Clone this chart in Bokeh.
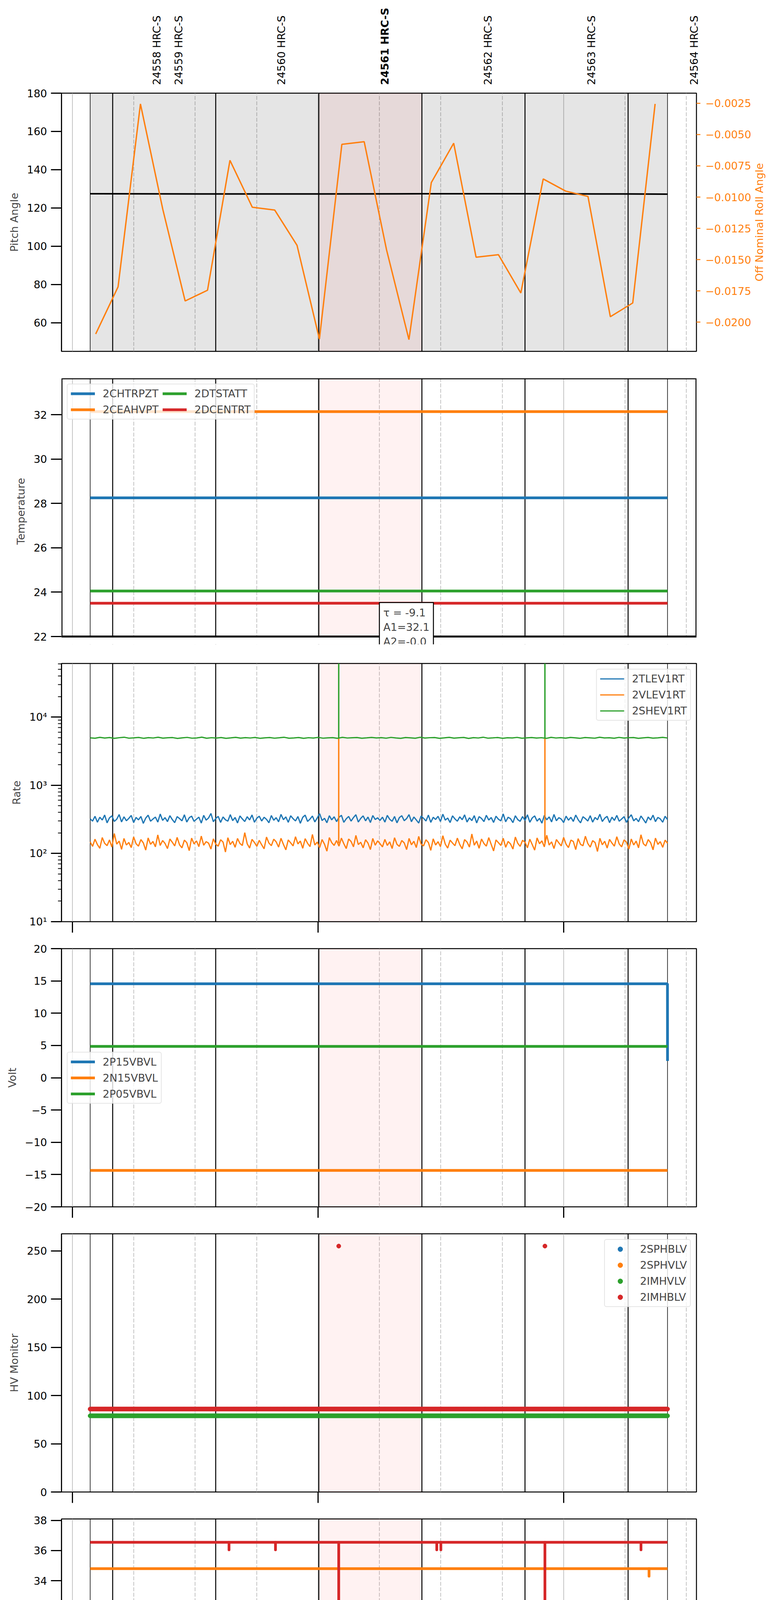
import numpy as np
from math import pi
from bokeh.plotting import figure
from bokeh.layouts import column, row
from bokeh.models import (Range1d, LinearAxis, FixedTicker, Span, BoxAnnotation, Label,
                          Legend, LegendItem, Grid, CustomJSTickFormatter, ColumnDataSource)
from bokeh.core.properties import value
from bokeh.embed import file_html
from bokeh.resources import INLINE

FONT = "DejaVu Sans"
BLUE, ORANGE, GREEN, RED = "#1f77b4", "#ff7f0e", "#2ca02c", "#d62728"


def mins(s):
    h, m, sec = (int(v) for v in s.split(":"))
    return (h - 3) * 60 + m + sec / 60.0


# ---------------- time frame (2021-09-09, minutes after 03:00) ----------------
X_START, X_END = "02:57:20", "05:32:26"
DATA_START, DATA_END = "03:04:20", "05:25:22"
HOUR_TICKS = [0, 60, 120]
QUARTER_TICKS = [15, 30, 45, 75, 90, 105, 135, 150]
DATE_LABEL = "2021-09-09 (252)"

OBSID_BOUNDS = ["03:09:50", "03:35:00", "04:00:11", "04:25:22", "04:50:33", "05:15:44"]
HIGHLIGHT = ("04:00:11", "04:25:22")
OBSID_NAMES = ["24558 HRC-S", "24559 HRC-S", "24560 HRC-S", "24561 HRC-S",
               "24562 HRC-S", "24563 HRC-S", "24564 HRC-S"]
OBSID_LABEL_TIMES = ["03:20:36", "03:25:57", "03:51:02", "04:16:19",
                     "04:41:30", "05:06:46", "05:31:52"]
CURRENT_OBSID = "24561 HRC-S"

# ---------------- panel 1: pitch / roll ----------------
PITCH_YLIM = (45, 180)
PITCH_TICKS = [60, 80, 100, 120, 140, 160, 180]
PITCH_TIMES = ["03:04:20", "03:35:00", "04:00:11", "04:25:22", "04:50:33", "05:15:44", "05:25:22"]
PITCH_VALUES = [127.4, 127.3, 127.3, 127.4, 127.4, 127.3, 127.2]

ROLL_YLIM = (-0.02234, -0.00169)
ROLL_TICKS = [-0.0025, -0.005, -0.0075, -0.01, -0.0125, -0.015, -0.0175, -0.02]
ROLL_LABEL = "Off Nominal Roll Angle"
ROLL_TIMES = ["03:05:41", "03:11:09", "03:16:37", "03:22:05", "03:27:32", "03:33:00",
              "03:38:29", "03:43:56", "03:49:25", "03:54:52", "04:00:20", "04:05:49",
              "04:11:16", "04:16:44", "04:22:12", "04:27:40", "04:33:08", "04:38:36",
              "04:44:04", "04:49:32", "04:55:00", "05:00:28", "05:05:56", "05:11:24",
              "05:16:52", "05:22:20"]
ROLL_VALUES = [-0.02095, -0.01718, -0.00255, -0.01099, -0.01831, -0.01745,
               -0.00706, -0.01081, -0.01104, -0.01386, -0.02136, -0.00578,
               -0.00557, -0.01422, -0.02140, -0.00884, -0.00569, -0.01481,
               -0.01461, -0.01767, -0.00855, -0.00952, -0.00995, -0.01957,
               -0.01847, -0.00255]

# ---------------- panel 2: temperature ----------------
TEMP_YLIM = (22.0, 33.64)
TEMP_TICKS = [22, 24, 26, 28, 30, 32]
TEMP_NAMES = ["2CHTRPZT", "2CEAHVPT", "2DTSTATT", "2DCENTRT"]
TEMP_VALUES = [28.25, 32.14, 24.05, 23.50]
FIT_TEXT = "τ = -9.1\nA1=32.1\nA2=-0.0"
FIT_POS = ("04:14:59", 23.53)

# ---------------- panel 3: rates ----------------
RATE_YLIM = (10, 61000)
RATE_TICKS = [10, 100, 1000, 10000]
RATE_MINOR = [m * 10 ** k for k in range(1, 5) for m in range(2, 10) if m * 10 ** k < 61000]
RATE_NAMES = ["2TLEV1RT", "2VLEV1RT", "2SHEV1RT"]
TLEV1RT = [322, 298, 351, 287, 340, 309, 366, 281, 333, 356, 295, 318, 372, 290, 345, 302, 327, 361, 284, 338,
           311, 349, 276, 330, 364, 297, 320, 342, 288, 379, 305, 336, 293, 358, 314, 283, 347, 325, 301, 369,
           289, 334, 353, 296, 318, 341, 279, 362, 308, 331, 386, 292, 326, 350, 285, 343, 312, 298, 371, 303,
           337, 280, 355, 321, 294, 346, 310, 367, 287, 329, 352, 299, 340, 316, 282, 360, 307, 335, 291, 374,
           313, 344, 286, 357, 324, 300, 348, 277, 339, 365, 295, 319, 354, 290, 332, 383, 304, 328, 282, 358,
           311, 345, 293, 338, 363, 286, 322, 349, 298, 336, 370, 289, 327, 356, 301, 342, 284, 360, 315, 333,
           305, 341, 288, 362, 317, 296, 349, 281, 336, 358, 302, 325, 371, 292, 343, 310, 279, 354, 328, 299,
           366, 286, 339, 315, 351, 294, 377, 308, 331, 284, 356, 321, 297, 345, 312, 368, 289, 334, 303, 359,
           280, 347, 326, 293, 363, 309, 337, 285, 352, 318, 300, 380, 291, 340, 323, 283, 357, 314, 296, 348,
           306, 369, 287, 332, 355, 298, 327, 278, 361, 311, 344, 290, 373, 302, 335, 319, 284, 353, 307, 339,
           295, 366, 313, 281, 346, 324, 299, 358, 288, 337, 312, 376, 294, 329, 350, 283, 341, 305, 362, 297,
           320, 347, 286, 334, 369, 301, 326, 292, 355, 316, 280, 343, 309, 365, 293, 338, 321, 287, 351, 314]
VLEV1RT = [148, 127, 162, 135, 119, 171, 141, 130, 158, 124, 196, 137, 152, 115, 166, 133, 145, 122, 175, 139,
           128, 160, 143, 112, 169, 136, 150, 125, 187, 131, 155, 140, 118, 163, 146, 129, 172, 134, 121, 157,
           144, 110, 168, 138, 153, 126, 180, 132, 149, 142, 116, 164, 137, 128, 159, 147, 105, 170, 135, 151,
           123, 166, 140, 131, 202, 139, 120, 161, 145, 127, 156, 134, 117, 174, 142, 130, 162, 148, 124, 167,
           136, 113, 158, 143, 129, 176, 138, 152, 119, 165, 141, 126, 190, 133, 147, 122, 160, 137, 108, 171,
           144, 131, 155, 128, 168, 139, 118, 163, 150, 125, 184, 135, 146, 121, 159, 142, 114, 166, 132, 153,
           139, 125, 161, 131, 148, 118, 170, 136, 127, 155, 143, 114, 166, 134, 151, 122, 178, 138, 129, 159,
           145, 111, 164, 133, 149, 126, 182, 137, 120, 157, 142, 130, 168, 135, 117, 160, 147, 124, 193, 132,
           152, 119, 163, 140, 128, 171, 136, 109, 158, 144, 131, 167, 123, 150, 138, 116, 174, 141, 127, 156,
           146, 121, 162, 135, 112, 169, 139, 153, 125, 185, 133, 148, 118, 160, 143, 129, 172, 137, 122, 157,
           150, 114, 165, 136, 130, 179, 140, 124, 154, 145, 107, 167, 134, 151, 120, 161, 142, 128, 176, 138,
           125, 158, 147, 116, 163, 133, 152, 121, 188, 139, 129, 160, 144, 113, 168, 136, 149, 123, 157, 141]
SHEV1RT = [4960, 4890, 5040, 4920, 5010, 4870, 4980, 5060, 4900, 4950, 5020, 4880, 4990, 4930, 5050, 4910,
           4970, 5000, 4860, 4960, 5030, 4900, 4940, 5070, 4890, 4980, 4920, 5010, 4870, 4950, 5040, 4910,
           4990, 4930, 5020, 4880, 4960, 5000, 4900, 4970, 5050, 4890, 4940, 5010, 4870, 4980, 4920, 5030,
           4900, 4960, 4990, 4880, 5040, 4930, 4970, 5010, 4890, 4950, 5020, 4940,
           4990, 4900, 5030, 4940, 4870, 5010, 4960, 4890, 5050, 4920, 4980, 5000, 4880, 4950, 5040, 4910,
           4970, 5020, 4860, 4990, 4930, 5060, 4900, 4950, 5010, 4880, 4970, 4940, 5030, 4890, 4960, 5000,
           4920, 4980, 4870, 5040, 4930, 4990, 4910, 5020, 4950, 4880, 5010, 4960, 4900, 5050, 4940, 4970,
           4890, 5030, 4920, 4980, 5000, 4870, 4960, 5020, 4910, 4950, 5040, 4930]
RATE_SPIKE_TIMES = ["04:05:03", "04:55:25"]
VLEV_SPIKE_BASE, VLEV_SPIKE_PEAK = [141, 141], [5000, 5000]
SHEV_SPIKE_BASE, SHEV_SPIKE_PEAK = [4950, 4950], [100000, 100000]

# ---------------- panel 4: voltages ----------------
VOLT_YLIM = (-20, 20)
VOLT_TICKS = [-20, -15, -10, -5, 0, 5, 10, 15, 20]
VOLT_NAMES = ["2P15VBVL", "2N15VBVL", "2P05VBVL"]
P15_TIMES = ["03:04:20", "05:25:21", "05:25:22"]
P15_VALUES = [14.55, 14.55, 2.6]
N15_VALUE = -14.36
P05_VALUE = 4.86

# ---------------- panel 5: HV monitor ----------------
HV_YLIM = (0, 267.75)
HV_TICKS = [0, 50, 100, 150, 200, 250]
HV_NAMES = ["2SPHBLV", "2SPHVLV", "2IMHVLV", "2IMHBLV"]
HV_SAMPLES = 700
SPHBLV_VALUES = [float("nan")]
SPHVLV_VALUES = [float("nan")]
IMHVLV_LEVEL = 79.0
IMHBLV_LEVEL = 86.0
IMHBLV_OUTLIER_TIMES = ["04:05:03", "04:55:25"]
IMHBLV_OUTLIER_VALUES = [255.0, 255.0]

# ---------------- panel 6: detector temperatures ----------------
DET_YLIM = (20.95, 38.1)
DET_TICKS = [22, 24, 26, 28, 30, 32, 34, 36, 38]
DET_NAMES = ["2SPINATM", "2SPHVATM", "2IMINATM", "2IMHVATM"]
DET_VALUES = [22.40, 34.80, 23.14, 36.55]
SPINATM_DIP_T = ["03:15:47", "03:45:13", "03:50:42", "03:58:37", "03:59:35"]
SPINATM_DIP_V = [21.64, 21.64, 21.64, 21.64, 21.64]
SPHVATM_DIP_T = ["05:20:51"]
SPHVATM_DIP_V = [34.30]
IMHVATM_DIP_T = ["03:38:15", "03:49:36", "04:05:03", "04:29:00", "04:30:00", "04:55:25", "05:18:53"]
IMHVATM_DIP_V = [36.05, 36.05, 15.0, 36.05, 36.05, 15.0, 36.05]

# ---------------- panel 7: FEA temperatures ----------------
FEA_YLIM = (20.33, 29.29)
FEA_TICKS = [21, 22, 23, 24, 25, 26, 27, 28, 29]
FEA_NAMES = ["2FHTRMZT", "2FRADPYT", "2FEPRATM", "2FE00ATM"]
FEA_VALUES = [26.39, 21.80, 27.75, 25.28]
FRADPYT_DIP_T = ["05:05:46"]
FRADPYT_DIP_V = [21.22]
FEPRATM_DIP_T = ["04:05:03", "04:55:25"]
FEPRATM_DIP_V = [25.33, 25.33]
FE00ATM_SPIKE_T = ["03:09:27", "03:19:26", "03:33:55", "03:35:22", "03:38:17", "03:40:58", "04:05:03",
                   "04:05:32", "04:09:04", "04:10:03", "04:13:13", "04:17:50", "04:19:39", "04:22:35",
                   "04:34:30", "04:35:14", "04:39:22", "04:39:51", "04:41:41", "04:52:53", "04:55:25",
                   "04:57:01", "04:57:45", "05:01:01", "05:07:43", "05:08:56", "05:15:16"]
FE00ATM_SPIKE_V = [25.65, 24.57, 24.24, 25.65, 24.90, 24.24, 15.0,
                   26.35, 25.65, 24.90, 26.00, 26.00, 26.35, 24.57,
                   25.65, 24.24, 24.57, 24.57, 22.92, 26.35, 15.0,
                   25.65, 25.65, 25.65, 24.24, 26.00, 24.90]

COLORS = [BLUE, ORANGE, GREEN, RED]
T0, T1 = mins(DATA_START), mins(DATA_END)
MINUS_CODE = "return String(tick).replace('-', '\u2212');"
FRAME_W, FRAME_H = 1626, 661
LEFT_B, RIGHT_B = 157, 201
TOTAL_W = LEFT_B + FRAME_W + RIGHT_B
X_RANGE = Range1d(mins(X_START), mins(X_END))
MIN_PER_PX = (mins(X_END) - mins(X_START)) / FRAME_W
HDR_EXTRA_PX = 40
P1_RIGHT_B = 146
ROLL_LABEL_OFFSET_PX = 15


def tl(lst):
    return [mins(s) for s in lst]


def base_fig(y_range, y_type="linear", top=10, bottom=59, frame_h=FRAME_H, right=RIGHT_B):
    p = figure(title=None, frame_width=FRAME_W, frame_height=frame_h,
               x_range=X_RANGE, y_range=y_range,
               y_axis_type=y_type, x_axis_location=None,
               output_backend="svg", toolbar_location=None,
               min_border_left=LEFT_B, min_border_right=right,
               min_border_top=top, min_border_bottom=bottom,
               background_fill_color="white", border_fill_color="white")
    p.outline_line_color = "black"
    p.outline_line_width = 2.5
    p.outline_line_alpha = 1.0
    p.xgrid.visible = False
    p.ygrid.visible = False
    p.add_layout(Grid(dimension=0, ticker=FixedTicker(ticks=HOUR_TICKS, minor_ticks=QUARTER_TICKS),
                      grid_line_color="#b0b0b0", grid_line_width=1.5,
                      minor_grid_line_color="#b0b0b0", minor_grid_line_width=1.5,
                      minor_grid_line_dash="10 4"))
    return p


def style_common(ax):
    ax.major_label_text_font = FONT
    ax.major_label_text_font_size = "27px"
    ax.major_label_text_color = "black"
    ax.major_tick_in = 0
    ax.minor_tick_in = 0
    ax.minor_tick_out = 0
    ax.axis_line_width = 2.5
    ax.axis_label_text_font = FONT
    ax.axis_label_text_font_size = "27px"
    ax.axis_label_text_font_style = "normal"


def style_left(p, label, ticks, code=MINUS_CODE, minor=None):
    ax = p.yaxis[0]
    style_common(ax)
    ax.axis_label = label
    ax.axis_label_standoff = 14
    ax.ticker = FixedTicker(ticks=ticks, minor_ticks=minor or [])
    ax.formatter = CustomJSTickFormatter(code=code)
    ax.major_tick_out = 27
    ax.major_tick_line_width = 3
    ax.major_label_standoff = 10
    if minor:
        ax.minor_tick_out = 9
        ax.minor_tick_line_width = 2
    return ax


def add_hour_ticks(p):
    ax = LinearAxis(ticker=FixedTicker(ticks=HOUR_TICKS))
    ax.major_tick_out = 28
    ax.major_tick_in = 0
    ax.major_tick_line_width = 3
    ax.minor_tick_out = 0
    ax.minor_tick_in = 0
    ax.major_label_text_font_size = "1px"
    ax.major_label_text_alpha = 0
    ax.major_label_standoff = 0
    ax.axis_line_color = None
    p.add_layout(ax, "below")


def add_obsid_marks(p, shade_all=False):
    if shade_all:
        p.add_layout(BoxAnnotation(left=T0, right=T1, fill_color="black", fill_alpha=0.1,
                                   line_color=None, level="underlay"))
    p.add_layout(BoxAnnotation(left=mins(HIGHLIGHT[0]), right=mins(HIGHLIGHT[1]), fill_color="red",
                               fill_alpha=0.05, line_color=None, level="underlay"))
    for t in (DATA_START, DATA_END):
        p.add_layout(Span(location=mins(t), dimension="height", line_color="black",
                          line_width=1.5, level="underlay"))
    for t in OBSID_BOUNDS:
        p.add_layout(Span(location=mins(t), dimension="height", line_color="black",
                          line_width=2.5, level="underlay"))


def add_legend(p, items, location, ncols=1):
    lg = Legend(items=[LegendItem(label=n, renderers=[r]) for n, r in items], location=location,
                ncols=ncols, label_text_font=FONT, label_text_font_size="27px",
                glyph_width=62, glyph_height=31, label_height=31, label_standoff=20,
                spacing=10, padding=8, margin=14, border_line_color="#cccccc",
                border_line_width=2, background_fill_color="white", background_fill_alpha=0.8)
    try:
        lg.border_radius = 6
    except Exception:
        pass
    p.add_layout(lg)


def bare_fig(width, height, x_range, y_range, top=0, bottom=0, left=0, right=0):
    f = figure(title=None, frame_width=width, frame_height=height, x_range=x_range,
               y_range=y_range, x_axis_location=None, y_axis_location=None,
               output_backend="svg", toolbar_location=None,
               min_border_left=left, min_border_right=right,
               min_border_top=top, min_border_bottom=bottom,
               background_fill_color="white", border_fill_color="white")
    f.outline_line_color = None
    f.xgrid.visible = False
    f.ygrid.visible = False
    return f


# ======== header: obsid labels ========
ph = bare_fig(FRAME_W + HDR_EXTRA_PX, 217,
              Range1d(mins(X_START), mins(X_END) + HDR_EXTRA_PX * MIN_PER_PX), Range1d(0, 1),
              left=LEFT_B, right=RIGHT_B - HDR_EXTRA_PX)
hdr_src = ColumnDataSource(dict(
    x=tl(OBSID_LABEL_TIMES), y=[0.0] * len(OBSID_NAMES), text=OBSID_NAMES,
    style=["bold" if n == CURRENT_OBSID else "normal" for n in OBSID_NAMES]))
ph.text(x="x", y="y", text="text", source=hdr_src, angle=pi / 2, text_align="left",
        text_baseline="middle", text_font=value(FONT), text_font_size=value("27px"),
        text_font_style="style", text_color="black")

# ======== panel 1 ========
p1 = base_fig(Range1d(*PITCH_YLIM), top=21, right=P1_RIGHT_B)
add_obsid_marks(p1, shade_all=True)
style_left(p1, "Pitch Angle", PITCH_TICKS)
p1.extra_y_ranges = {"roll": Range1d(*ROLL_YLIM)}
rax = LinearAxis(y_range_name="roll", ticker=FixedTicker(ticks=ROLL_TICKS),
                 formatter=CustomJSTickFormatter(code="return tick.toFixed(4).replace('-', '\u2212');"))
style_common(rax)
rax.major_tick_out = 10
rax.major_tick_line_color = ORANGE
rax.major_tick_line_width = 2.5
rax.major_label_text_color = ORANGE
rax.major_label_standoff = 13
rax.axis_line_color = None
p1.add_layout(rax, "right")
p1.line(tl(PITCH_TIMES), PITCH_VALUES, color="black", line_width=4)
p1.line(tl(ROLL_TIMES), ROLL_VALUES, color=ORANGE, line_width=3.5, y_range_name="roll")

# title of the roll axis, in a narrow strip to the right of panel 1
SIDE_W = TOTAL_W - (LEFT_B + FRAME_W + P1_RIGHT_B)
pside = bare_fig(SIDE_W, FRAME_H, Range1d(0, SIDE_W), p1.y_range, top=21, bottom=59)
pside.text(x=[ROLL_LABEL_OFFSET_PX], y=[sum(PITCH_YLIM) / 2], text=[ROLL_LABEL], angle=pi / 2,
           text_align="center", text_baseline="middle", text_font=value(FONT),
           text_font_size=value("27px"), text_color=ORANGE)

# ======== panel 2 (frame extended 20 px downward so the fit box can overhang the axis) ========
EXT_PX = 20
temp_scale = FRAME_H / (TEMP_YLIM[1] - TEMP_YLIM[0])
p2 = base_fig(Range1d(TEMP_YLIM[0] - EXT_PX / temp_scale, TEMP_YLIM[1]),
              bottom=59 - EXT_PX, frame_h=FRAME_H + EXT_PX)
p2.outline_line_color = None
add_obsid_marks(p2)
ax2 = style_left(p2, "Temperature", TEMP_TICKS)
ax2.axis_line_color = None
items2 = []
for n, v, c in zip(TEMP_NAMES, TEMP_VALUES, COLORS):
    items2.append((n, p2.line([T0, T1], [v, v], color=c, line_width=7)))
add_legend(p2, items2, "top_left", ncols=2)
p2.add_layout(BoxAnnotation(top=TEMP_YLIM[0], fill_color="white", fill_alpha=1.0,
                            line_color=None, level="annotation"))
p2.add_layout(BoxAnnotation(bottom=TEMP_YLIM[0], fill_color=None, fill_alpha=0.0,
                            line_color="black", line_width=5, line_alpha=1.0, level="annotation"))
p2.add_layout(Label(x=mins(FIT_POS[0]), y=FIT_POS[1], text=FIT_TEXT, text_align="left",
                    text_baseline="top", text_font=FONT, text_font_size="27px",
                    background_fill_color="white", background_fill_alpha=1.0,
                    border_line_color="black", border_line_width=2.5, padding=10))

# ======== panel 3 ========
p3 = base_fig(Range1d(*RATE_YLIM), y_type="log")
add_obsid_marks(p3)
style_left(p3, "Rate", RATE_TICKS, minor=RATE_MINOR,
           code="const s = {1: '\u00b9', 2: '\u00b2', 3: '\u00b3', 4: '\u2074'};"
                " return '10' + s[Math.round(Math.log10(tick))];")
add_hour_ticks(p3)
items3 = []
for n, vals, c in zip(RATE_NAMES, [TLEV1RT, VLEV1RT, SHEV1RT], [BLUE, ORANGE, GREEN]):
    r = p3.line(np.linspace(T0, T1, len(vals)), vals, color=c, line_width=3.2)
    items3.append((n, r))
    if c == ORANGE:
        p3.segment(x0=tl(RATE_SPIKE_TIMES), y0=VLEV_SPIKE_BASE, x1=tl(RATE_SPIKE_TIMES),
                   y1=VLEV_SPIKE_PEAK, color=ORANGE, line_width=3.5)
    if c == GREEN:
        p3.segment(x0=tl(RATE_SPIKE_TIMES), y0=SHEV_SPIKE_BASE, x1=tl(RATE_SPIKE_TIMES),
                   y1=SHEV_SPIKE_PEAK, color=GREEN, line_width=3.5)
add_legend(p3, items3, "top_right")

# ======== panel 4 ========
p4 = base_fig(Range1d(*VOLT_YLIM))
add_obsid_marks(p4)
style_left(p4, "Volt", VOLT_TICKS)
add_hour_ticks(p4)
r_p15 = p4.line(tl(P15_TIMES), P15_VALUES, color=BLUE, line_width=7)
r_n15 = p4.line([T0, T1], [N15_VALUE, N15_VALUE], color=ORANGE, line_width=7)
r_p05 = p4.line([T0, T1], [P05_VALUE, P05_VALUE], color=GREEN, line_width=7)
add_legend(p4, list(zip(VOLT_NAMES, [r_p15, r_n15, r_p05])), "center_left")

# ======== panel 5 ========
p5 = base_fig(Range1d(*HV_YLIM))
add_obsid_marks(p5)
style_left(p5, "HV Monitor", HV_TICKS)
add_hour_ticks(p5)
t_hv = np.linspace(T0, T1, HV_SAMPLES)
r_sphb = p5.scatter([T0] * len(SPHBLV_VALUES), SPHBLV_VALUES, size=11, color=BLUE)
r_sphv = p5.scatter([T0] * len(SPHVLV_VALUES), SPHVLV_VALUES, size=11, color=ORANGE)
r_imhv = p5.scatter(t_hv, np.full(HV_SAMPLES, IMHVLV_LEVEL), size=11, color=GREEN)
r_imhb = p5.scatter(np.concatenate([t_hv, tl(IMHBLV_OUTLIER_TIMES)]),
                    np.concatenate([np.full(HV_SAMPLES, IMHBLV_LEVEL), IMHBLV_OUTLIER_VALUES]),
                    size=11, color=RED)
add_legend(p5, list(zip(HV_NAMES, [r_sphb, r_sphv, r_imhv, r_imhb])), "top_right")

# ======== panel 6 ========
p6 = base_fig(Range1d(*DET_YLIM))
add_obsid_marks(p6)
style_left(p6, "Detector Temp", DET_TICKS)
add_hour_ticks(p6)
dips6 = [(SPINATM_DIP_T, SPINATM_DIP_V), (SPHVATM_DIP_T, SPHVATM_DIP_V), ([], []),
         (IMHVATM_DIP_T, IMHVATM_DIP_V)]
items6 = []
for n, v, c, (dt, dv) in zip(DET_NAMES, DET_VALUES, COLORS, dips6):
    items6.append((n, p6.line([T0, T1], [v, v], color=c, line_width=7)))
    if dt:
        p6.segment(x0=tl(dt), y0=[v] * len(dt), x1=tl(dt), y1=dv, color=c, line_width=7,
                   line_cap="round")
add_legend(p6, items6, "center_right")

# ======== panel 7 ========
p7 = base_fig(Range1d(*FEA_YLIM), bottom=100)
add_obsid_marks(p7)
style_left(p7, "FEA Temp", FEA_TICKS)
axq = LinearAxis(ticker=FixedTicker(ticks=QUARTER_TICKS, minor_ticks=HOUR_TICKS),
                 formatter=CustomJSTickFormatter(code="return String(Math.round(tick) % 60);"))
style_common(axq)
axq.major_label_text_font_size = "18px"
axq.major_tick_out = 6
axq.major_tick_line_width = 2
axq.minor_tick_out = 28
axq.minor_tick_line_width = 3
axq.major_label_standoff = 1
axq.axis_line_color = None
p7.add_layout(axq, "below")
axh = LinearAxis(ticker=FixedTicker(ticks=HOUR_TICKS),
                 formatter=CustomJSTickFormatter(code="return '0' + String(3 + Math.round(tick / 60)) + 'h';"))
style_common(axh)
axh.major_tick_out = 0
axh.major_tick_line_color = None
axh.axis_line_color = None
axh.major_label_standoff = 2
axh.axis_label = DATE_LABEL
axh.axis_label_text_font_size = "33px"
axh.axis_label_standoff = 2
p7.add_layout(axh, "below")
dips7 = [([], []), (FRADPYT_DIP_T, FRADPYT_DIP_V), (FEPRATM_DIP_T, FEPRATM_DIP_V),
         (FE00ATM_SPIKE_T, FE00ATM_SPIKE_V)]
items7 = []
for n, v, c, (dt, dv) in zip(FEA_NAMES, FEA_VALUES, COLORS, dips7):
    items7.append((n, p7.line([T0, T1], [v, v], color=c, line_width=7)))
    if dt:
        p7.segment(x0=tl(dt), y0=[v] * len(dt), x1=tl(dt), y1=dv, color=c, line_width=7,
                   line_cap="round")
add_legend(p7, items7, "bottom_right")

layout = column(ph, row(p1, pside, spacing=0), p2, p3, p4, p5, p6, p7, spacing=0)
open("out.html", "w", encoding="utf-8").write(file_html(layout, INLINE))
